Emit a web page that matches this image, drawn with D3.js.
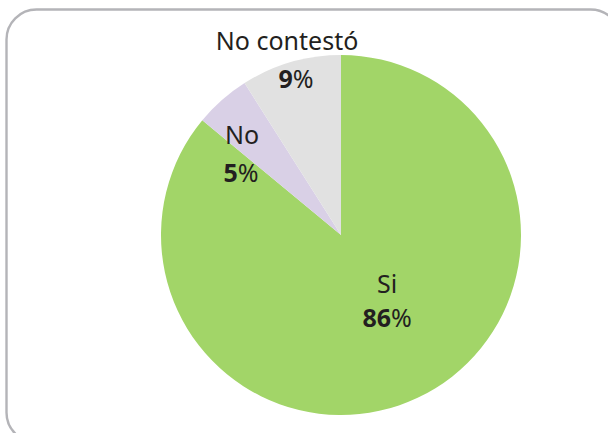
<!DOCTYPE html>
<html><head><meta charset="utf-8">
<script src="https://cdn.jsdelivr.net/npm/d3@7/dist/d3.min.js"></script>
<style>html,body{margin:0;padding:0;background:#fff;overflow:hidden;}svg{display:block;}</style>
</head><body>
<svg id="c" width="608" height="433"></svg>
<script>
const categories = ["Si", "No", "No contestó"];
const values = [86, 5, 9];
const labels = ["86%", "5%", "9%"];
const colors = ["#a2d568", "#d9d0e6", "#e1e1e1"];

const svg = d3.select("#c");
svg.append("rect").attr("x", 6.5).attr("y", 9.5).attr("width", 614).attr("height", 433)
  .attr("rx", 30).attr("ry", 30).attr("fill", "#fff").attr("stroke", "#b4b4b8").attr("stroke-width", 2.4);

const cx = 341, cy = 235, R = 180;
const g = svg.append("g").attr("transform", `translate(${cx},${cy})`);
const pie = d3.pie().sort(null).value(d => d).startAngle(0).endAngle(2 * Math.PI);
const arcs = pie(values);
const arc = d3.arc().innerRadius(0).outerRadius(R);
g.selectAll("path").data(arcs).enter().append("path")
  .attr("d", arc).attr("fill", (d, i) => colors[i]);

// label placement (radius, angle tweak) per slice
const place = [{r: 89, da: -6, name: [0, -26], pct: [0, 8]},
               {r: 123, da: -13, name: [1, -27], pct: [0, 11]},
               {r: 161, da: 0, name: [-9, -38], pct: [0, 0]}];
const font = "'Noto Sans', 'Open Sans', sans-serif";
arcs.forEach((d, i) => {
  const mid = (d.startAngle + d.endAngle) / 2 + place[i].da * Math.PI / 180;
  const x = place[i].r * Math.sin(mid), y = -place[i].r * Math.cos(mid);
  g.append("text").attr("x", x + place[i].name[0]).attr("y", y + place[i].name[1] + 8)
    .attr("text-anchor", "middle").attr("font-family", font).attr("font-size", 25)
    .attr("fill", "#231f20").text(categories[i]);
  const t = g.append("text").attr("x", x + place[i].pct[0]).attr("y", y + place[i].pct[1] + 8)
    .attr("text-anchor", "middle").attr("font-family", font).attr("font-size", 25)
    .attr("fill", "#231f20");
  t.append("tspan").attr("font-weight", "bold").text(labels[i].replace("%", ""));
  t.append("tspan").attr("font-weight", "normal").text("%");
});
</script>
</body></html>
